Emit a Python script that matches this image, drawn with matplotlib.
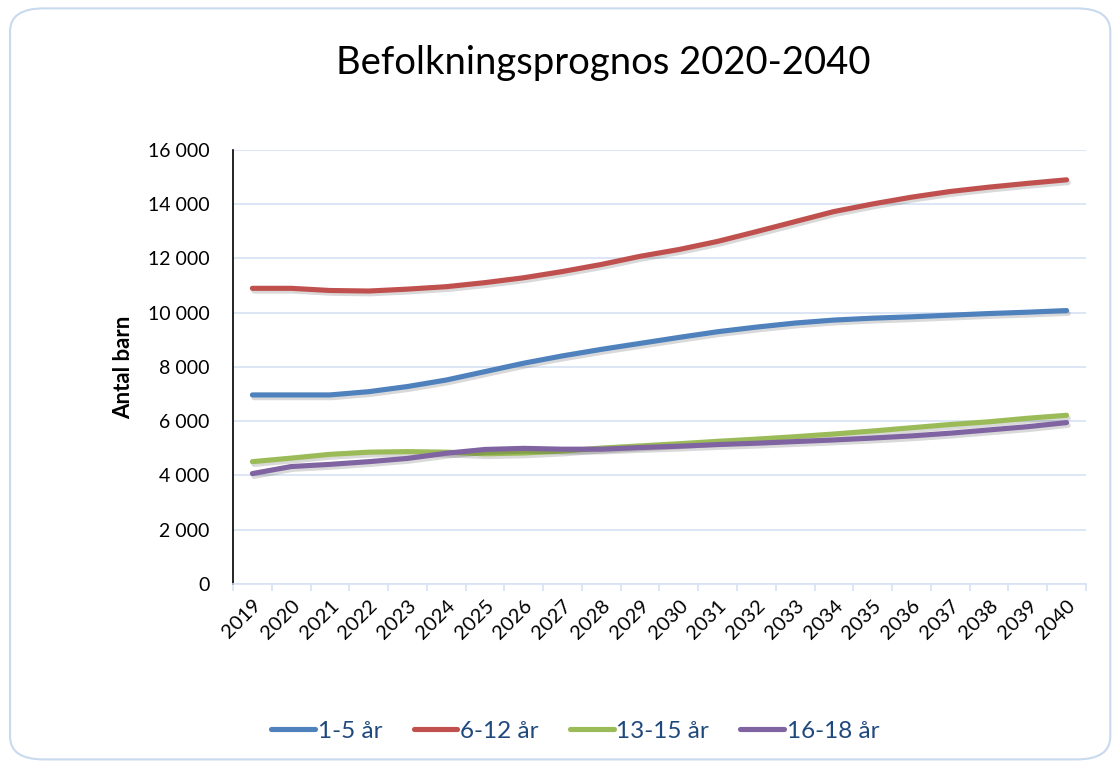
import matplotlib
matplotlib.use("Agg")
import matplotlib.pyplot as plt
import matplotlib.patheffects as pe
from matplotlib.patches import FancyBboxPatch
from matplotlib.ticker import FuncFormatter, FixedLocator

plt.rcParams["font.family"] = ["Lato", "DejaVu Sans"]

# data
years = [str(y) for y in range(2019, 2041)]
age_1_5 = [6970, 6970, 6970, 7090, 7280, 7520, 7830, 8140, 8410, 8650, 8870,
           9090, 9300, 9470, 9620, 9730, 9800, 9850, 9910, 9970, 10020, 10080]
age_6_12 = [10900, 10900, 10820, 10800, 10870, 10960, 11110, 11290, 11520, 11780, 12080,
            12330, 12630, 12990, 13360, 13730, 14010, 14260, 14470, 14630, 14770, 14900]
age_13_15 = [4510, 4640, 4780, 4860, 4880, 4860, 4800, 4830, 4900, 5010, 5090,
             5170, 5260, 5340, 5430, 5530, 5640, 5760, 5880, 5980, 6110, 6220]
age_16_18 = [4070, 4330, 4410, 4510, 4630, 4820, 4960, 5000, 4970, 4970, 5030,
             5080, 5140, 5190, 5250, 5310, 5380, 5460, 5560, 5680, 5800, 5950]

series = [
    ("1-5 år", age_1_5, "#4F81BD"),
    ("6-12 år", age_6_12, "#C0504D"),
    ("13-15 år", age_13_15, "#9BBB59"),
    ("16-18 år", age_16_18, "#8064A2"),
]

fig = plt.figure(figsize=(11.17, 7.64), dpi=100)

# rounded chart border (no fill so the axes stays visible)
border = FancyBboxPatch((0.009, 0.006), 0.985, 0.983,
                        boxstyle="round,pad=0,rounding_size=0.03",
                        transform=fig.transFigure, facecolor="none",
                        edgecolor="#C9D9EE", linewidth=1.5, zorder=-1)
fig.patches.append(border)

ax = fig.add_axes([0.2086, 0.2356, 0.7636, 0.5681])
ax.set_facecolor("none")

x = list(range(len(years)))
handles = []
for name, vals, col in series:
    ln, = ax.plot(x, vals, color=col, lw=3.7, solid_capstyle="round",
                  label=name, zorder=3,
                  path_effects=[pe.SimpleLineShadow(offset=(1.2, -2.0), alpha=0.15, shadow_color="black"),
                                pe.Normal()])
    handles.append(ln)

ax.set_xlim(-0.5, len(years) - 0.5)
ax.set_ylim(0, 16000)
ax.set_yticks(range(0, 16001, 2000))
ax.yaxis.set_major_formatter(FuncFormatter(lambda v, p: f"{int(v):,}".replace(",", " ")))
ax.grid(axis="y", color="#D6E2F2", lw=1.2, zorder=0)
ax.set_axisbelow(True)

ax.set_xticks(x)
ax.set_xticklabels(years, rotation=45, ha="right", va="top", rotation_mode="anchor")
ax.xaxis.set_minor_locator(FixedLocator([i - 0.5 for i in range(len(years) + 1)]))
ax.tick_params(axis="x", which="major", length=0, labelsize=14.5, pad=9)
ax.tick_params(axis="x", which="minor", length=5, color="#D6E2F2", width=1.2)
ax.tick_params(axis="y", length=0, labelsize=14, pad=17)

for s in ["top", "right"]:
    ax.spines[s].set_visible(False)
ax.spines["bottom"].set_color("#D6E2F2")
ax.spines["bottom"].set_linewidth(1.2)
ax.spines["left"].set_color("black")
ax.spines["left"].set_linewidth(1.2)

ax.set_ylabel("Antal barn", fontsize=16, fontweight="bold", labelpad=10)

fig.text(0.54, 0.917, "Befolkningsprognos 2020-2040", ha="center", va="center", fontsize=27.5)

leg = fig.legend(handles=handles, loc="center", bbox_to_anchor=(0.515, 0.043), ncol=4,
                 frameon=False, fontsize=17.5, handlelength=1.8, handletextpad=0.1,
                 columnspacing=1.3)
for t in leg.get_texts():
    t.set_color("#1F497D")
for lh in leg.get_lines():
    lh.set_path_effects([])

fig.savefig("out.png", dpi=100)
